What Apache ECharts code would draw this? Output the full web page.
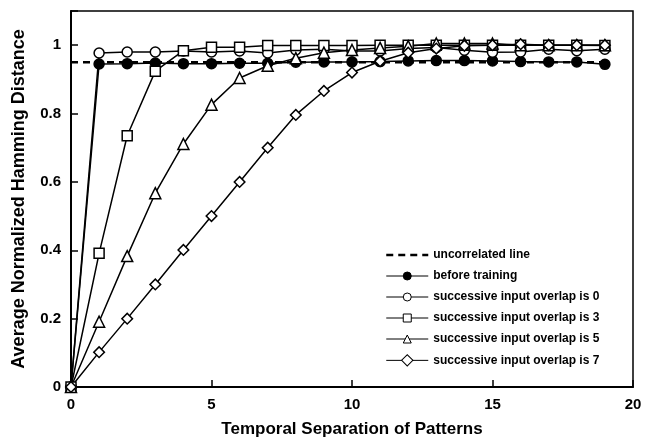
<!DOCTYPE html>
<html>
<head>
<meta charset="utf-8">
<script src="https://cdn.jsdelivr.net/npm/echarts@6/dist/echarts.min.js"></script>
<style>
  html, body { margin: 0; padding: 0; background: #fff; }
  #chart { width: 647px; height: 443px; }
</style>
</head>
<body>
<div id="chart"></div>
<script>
  // temporal separation 0..19
  var separation = [0, 1, 2, 3, 4, 5, 6, 7, 8, 9, 10, 11, 12, 13, 14, 15, 16, 17, 18, 19];
  var uncorrelated = [0.95, 0.95];
  var uncorrelatedX = [0, 19];
  var beforeTraining = [0, 0.945, 0.946, 0.948, 0.946, 0.946, 0.947, 0.947, 0.95, 0.951, 0.951, 0.952, 0.954, 0.955, 0.955, 0.954, 0.952, 0.951, 0.951, 0.944];
  var overlap0 = [0, 0.977, 0.98, 0.98, 0.983, 0.98, 0.983, 0.977, 0.986, 0.988, 0.983, 0.983, 0.99, 0.993, 0.985, 0.979, 0.98, 0.988, 0.984, 0.988];
  var overlap3 = [0, 0.391, 0.735, 0.924, 0.984, 0.994, 0.994, 0.999, 0.999, 0.999, 0.999, 1.0, 1.0, 1.0, 1.0, 1.0, 1.0, 1.0, 1.0, 0.999];
  var overlap5 = [0, 0.191, 0.383, 0.567, 0.711, 0.826, 0.904, 0.94, 0.962, 0.978, 0.986, 0.992, 0.997, 1.005, 1.005, 1.005, 1.0, 1.0, 1.0, 1.0];
  var overlap7 = [0, 0.102, 0.2, 0.3, 0.401, 0.5, 0.6, 0.7, 0.796, 0.866, 0.92, 0.953, 0.978, 0.99, 0.998, 1.0, 1.003, 1.0, 1.0, 1.0];
  var legendNames = ['uncorrelated line', 'before training', 'successive input overlap is 0',
    'successive input overlap is 3', 'successive input overlap is 5', 'successive input overlap is 7'];

  function pairs(xs, ys) {
    return xs.map(function (x, i) { return [x, ys[i]]; });
  }

  function markerSeries(name, ys, symbol, size, filled, rotate) {
    return {
      name: name,
      type: 'line',
      data: pairs(separation, ys),
      symbol: symbol,
      symbolSize: size,
      symbolRotate: rotate || 0,
      showAllSymbol: true,
      lineStyle: { color: '#000', width: 1.5 },
      itemStyle: { color: filled ? '#000' : '#fff', borderColor: '#000', borderWidth: 1.5 },
      emphasis: { disabled: true },
      animation: false
    };
  }

  var legendData = legendNames.map(function (n, i) {
    var item = { name: n, lineStyle: { width: i === 0 ? 2.5 : 1 } };
    if (i === 0) item.itemStyle = { opacity: 0, borderWidth: 0 };
    else item.itemStyle = { borderWidth: 1 };
    return item;
  });

  var chart = echarts.init(document.getElementById('chart'));
  chart.setOption({
    backgroundColor: '#fff',
    textStyle: { fontFamily: 'Liberation Sans, Arial, sans-serif' },
    grid: { left: 71, right: 14, top: 11, bottom: 50, show: true, borderColor: '#000', borderWidth: 1.5 },
    legend: {
      orient: 'vertical',
      left: 380,
      top: 244,
      itemWidth: 42,
      itemHeight: 10,
      itemGap: 9,
      data: legendData,
      textStyle: { fontSize: 12, fontWeight: 'bold', color: '#000' }
    },
    xAxis: {
      type: 'value',
      min: 0,
      max: 20,
      interval: 5,
      name: 'Temporal Separation of Patterns',
      nameLocation: 'middle',
      nameGap: 34,
      nameTextStyle: { fontSize: 17, fontWeight: 'bold', color: '#000' },
      axisLine: { lineStyle: { color: '#000', width: 2 } },
      axisTick: { inside: true, length: 7, lineStyle: { color: '#000', width: 1.5 } },
      axisLabel: { fontSize: 15, fontWeight: 'bold', color: '#000', margin: 10 },
      splitLine: { show: false }
    },
    yAxis: {
      type: 'value',
      min: 0,
      max: 1.1,
      interval: 0.2,
      name: 'Average Normalized Hamming Distance',
      nameLocation: 'middle',
      nameGap: 43,
      nameTextStyle: { fontSize: 18, fontWeight: 'bold', color: '#000' },
      axisLine: { lineStyle: { color: '#000', width: 2 } },
      axisTick: { inside: true, length: 7, lineStyle: { color: '#000', width: 1.5 } },
      axisLabel: {
        fontSize: 15, fontWeight: 'bold', color: '#000', margin: 10,
        formatter: function (v) { return v > 1.05 ? '' : String(Math.round(v * 10) / 10); }
      },
      splitLine: { show: false }
    },
    series: [
      {
        name: legendNames[0],
        type: 'line',
        data: pairs(uncorrelatedX, uncorrelated),
        symbol: 'none',
        lineStyle: { color: '#000', width: 2.5, type: [7, 5] },
        itemStyle: { color: '#000' },
        emphasis: { disabled: true },
        animation: false
      },
      markerSeries(legendNames[1], beforeTraining, 'circle', 10, true),
      markerSeries(legendNames[2], overlap0, 'circle', 10, false),
      markerSeries(legendNames[3], overlap3, 'rect', 10, false),
      markerSeries(legendNames[4], overlap5, 'triangle', 11, false),
      markerSeries(legendNames[5], overlap7, 'rect', 7.5, false, 45)
    ]
  });
</script>
</body>
</html>
